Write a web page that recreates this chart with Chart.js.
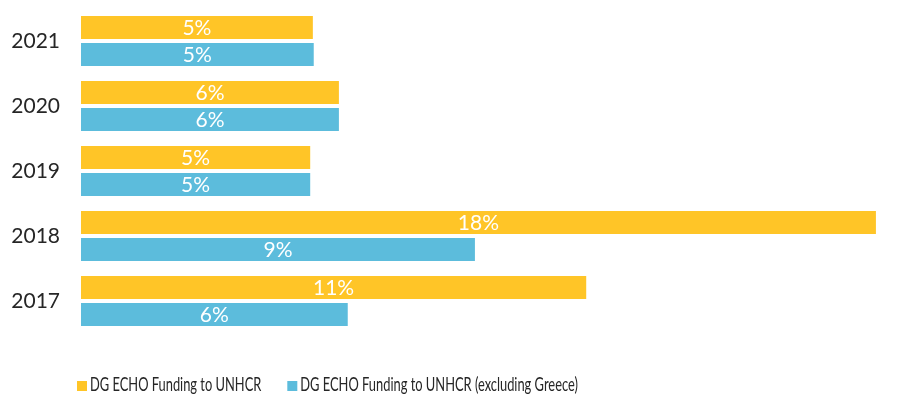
<!DOCTYPE html>
<html>
<head>
<meta charset="utf-8">
<script src="https://cdn.jsdelivr.net/npm/chart.js@4/dist/chart.umd.min.js"></script>
<style>
  html, body { margin: 0; padding: 0; background: #ffffff; }
  #wrap { position: relative; width: 916px; height: 396px; }
</style>
</head>
<body>
<div id="wrap"><canvas id="chart" width="916" height="396"></canvas></div>
<script>
// Share of DG ECHO funding going to UNHCR, by year (per cent)
const years = ['2021', '2020', '2019', '2018', '2017'];
const fundingToUnhcr = [5.25, 5.84, 5.19, 18.0, 11.44];
const fundingExclGreece = [5.27, 5.84, 5.19, 8.92, 6.04];
const seriesNames = ['DG ECHO Funding to UNHCR', 'DG ECHO Funding to UNHCR (excluding Greece)'];

const YELLOW = '#FFC527';
const BLUE = '#5CBCDC';
const FONT = 'Lato, "Liberation Sans", sans-serif';
const LEGEND_CONDENSE = 0.715;   // narrow, Calibri-like legend lettering

// White percentage labels centred inside each bar
const barValueLabels = {
  id: 'barValueLabels',
  afterDatasetsDraw(chart) {
    const ctx = chart.ctx;
    ctx.save();
    ctx.font = '21px ' + FONT;
    ctx.fillStyle = '#ffffff';
    ctx.textAlign = 'center';
    ctx.textBaseline = 'middle';
    chart.data.datasets.forEach((ds, di) => {
      const meta = chart.getDatasetMeta(di);
      meta.data.forEach((bar, i) => {
        const cx = (bar.x + bar.base) / 2;
        ctx.fillText(Math.round(ds.data[i]) + '%', cx, bar.y + 1);
      });
    });
    ctx.restore();
  }
};

// Legend row under the plot: small square swatch followed by the series name
const swatchLegend = {
  id: 'swatchLegend',
  afterDraw(chart) {
    const ctx = chart.ctx;
    const area = chart.chartArea;
    ctx.save();
    ctx.font = '19px ' + FONT;
    ctx.textBaseline = 'middle';
    ctx.textAlign = 'left';
    let x = area.left - 4;
    const y = chart.height - 11;
    chart.data.datasets.forEach(ds => {
      ctx.fillStyle = ds.backgroundColor;
      ctx.fillRect(x, y - 4, 10, 10);
      x += 13;
      ctx.fillStyle = '#262626';
      ctx.save();
      ctx.translate(x, y);
      ctx.scale(LEGEND_CONDENSE * 18 / 19, 1);
      ctx.fillText(ds.label, 0, 0);
      ctx.restore();
      x += ctx.measureText(ds.label).width * LEGEND_CONDENSE * 18 / 19 + 26;
    });
    ctx.restore();
  }
};

new Chart(document.getElementById('chart'), {
  type: 'bar',
  data: {
    labels: years,
    datasets: [
      { label: seriesNames[0], data: fundingToUnhcr, backgroundColor: YELLOW },
      { label: seriesNames[1], data: fundingExclGreece, backgroundColor: BLUE }
    ]
  },
  options: {
    indexAxis: 'y',
    responsive: false,
    animation: false,
    devicePixelRatio: 1,
    categoryPercentage: 0.83,
    barPercentage: 0.85,
    layout: { padding: { left: 0, right: 18, top: 8.5, bottom: 62.5 } },
    plugins: {
      legend: { display: false },
      tooltip: { enabled: false }
    },
    scales: {
      x: {
        display: false,
        min: 0,
        max: 18.5
      },
      y: {
        grid: { display: false, drawTicks: true, tickLength: 21 },
        border: { display: false },
        ticks: {
          color: '#262626',
          font: { family: FONT, size: 21, lineHeight: 0.8 },
          padding: 0
        },
        afterFit(scale) { scale.width = 81; }
      }
    }
  },
  plugins: [barValueLabels, swatchLegend]
});
</script>
</body>
</html>
